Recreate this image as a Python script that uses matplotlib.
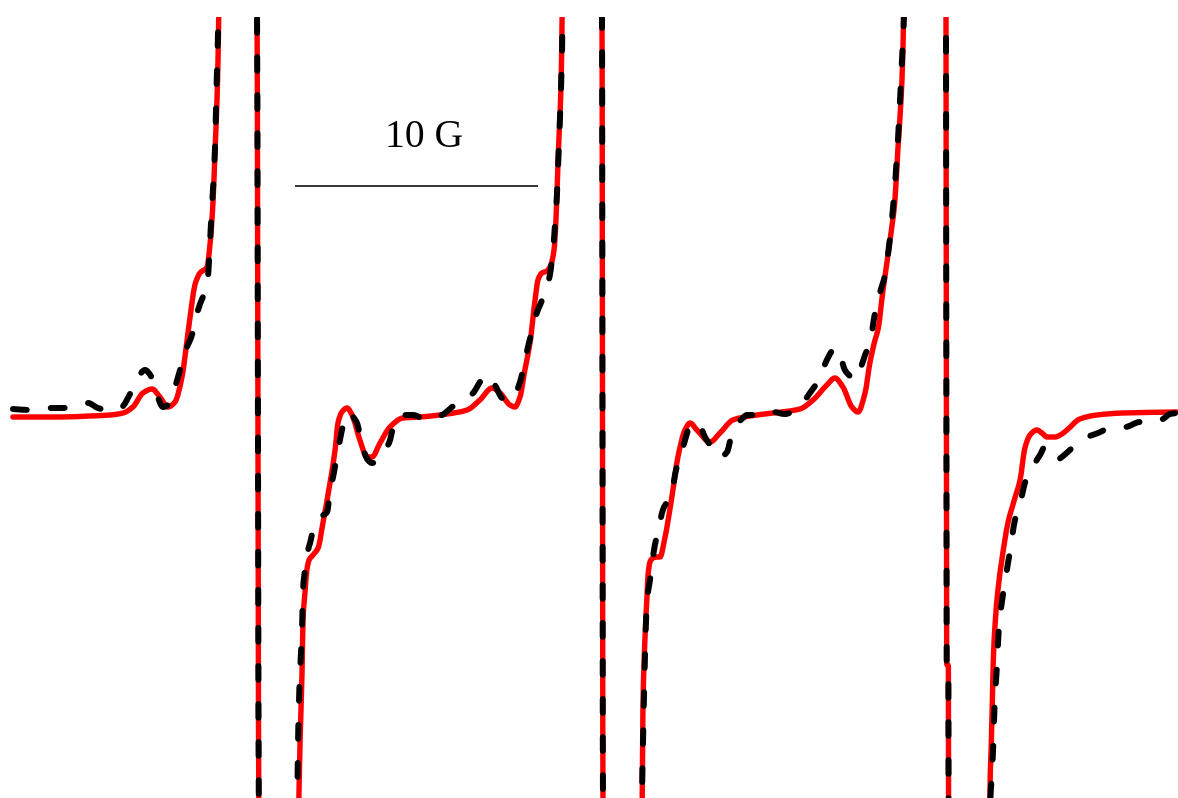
import matplotlib
matplotlib.use("Agg")
import matplotlib.pyplot as plt
from matplotlib.path import Path
from matplotlib.patches import PathPatch
import numpy as np

# ---------------------------------------------------------------------------
# EPR first-derivative spectra (field offset in G, signal in arbitrary units).
# The strong central hyperfine lines run far off scale; the plot is clipped to
# show the weak satellite structure between them.
# ---------------------------------------------------------------------------

# Solid red trace
field_solid = [
    0.53, 2.47, 3.70, 4.53, 5.06, 5.47, 5.88, 6.26, 6.58, 6.91, 7.20, 7.49,
    7.70, 7.90, 8.02, 8.23, 8.52, 8.64, 8.77, 8.85, 8.93, 8.98, 9.02,
    9.79, 10.57, 10.66, 11.44, 12.25,
    12.35, 12.43, 12.47, 12.55, 12.63, 12.72, 12.88, 13.09, 13.29, 13.58,
    13.79, 13.91, 14.07, 14.28, 14.49, 14.81, 15.10, 15.31, 15.64, 16.05,
    16.58, 17.28, 18.40, 19.22, 19.75, 20.25, 20.58, 20.99, 21.19, 21.40,
    21.60, 21.81, 22.02, 22.14, 22.30, 22.51, 22.67, 22.80, 22.88, 22.94,
    23.00, 23.07, 23.11, 23.15,
    23.95, 24.77, 24.82, 25.60, 26.41,
    26.46, 26.54, 26.63, 26.67, 26.75, 26.87, 27.04, 27.16, 27.37, 27.65,
    27.90, 28.19, 28.40, 28.68, 29.22, 29.63, 30.16, 30.86, 31.81, 32.92,
    33.46, 34.03, 34.36, 34.69, 35.06, 35.31, 35.60, 35.80, 36.01, 36.13,
    36.34, 36.63, 36.83, 36.95, 37.08, 37.16, 37.21,
    38.07, 38.93, 38.96, 39.03, 39.04, 39.92, 40.73,
    40.74, 40.80, 40.84, 40.88, 40.95, 41.07, 41.23, 41.48, 41.73, 41.98,
    42.18, 42.39, 42.67, 42.88, 43.09, 43.42, 43.70, 43.91, 44.44, 45.14,
    46.21, 48.44,
]
signal_solid = [
    -0.02, -0.02, -0.01, 0.00, 0.02, 0.08, 0.22, 0.26, 0.18, 0.08, 0.13, 0.38,
    0.75, 1.12, 1.30, 1.42, 1.48, 1.70, 2.15, 2.65, 3.15, 3.65, 4.30,
    12.0, 4.50, -4.40, -12.0, -4.45,
    -3.25, -2.58, -2.05, -1.78, -1.55, -1.45, -1.40, -1.33, -1.08, -0.68,
    -0.35, -0.08, 0.03, 0.07, 0.00, -0.25, -0.42, -0.42, -0.28, -0.12,
    -0.03, -0.02, 0.01, 0.05, 0.15, 0.27, 0.22, 0.10, 0.08, 0.18,
    0.45, 0.72, 1.15, 1.35, 1.42, 1.44, 1.50, 1.65, 1.95, 2.35,
    2.75, 3.15, 3.55, 4.30,
    12.0, 4.50, -4.40, -12.0, -4.45,
    -2.92, -2.25, -1.80, -1.60, -1.47, -1.43, -1.42, -1.42, -1.22, -0.82,
    -0.42, -0.15, -0.08, -0.15, -0.27, -0.18, -0.05, -0.01, 0.02, 0.06,
    0.15, 0.30, 0.37, 0.28, 0.08, 0.03, 0.22, 0.52, 0.75, 0.85,
    1.25, 1.75, 2.15, 2.65, 3.15, 3.65, 4.30,
    12.0, 4.50, -2.49, -2.51, -4.40, -12.0, -4.45,
    -3.83, -3.25, -2.85, -2.45, -2.10, -1.75, -1.45, -1.08, -0.86, -0.65,
    -0.33, -0.20, -0.15, -0.18, -0.22, -0.22, -0.19, -0.15, -0.04, 0.00,
    0.02, 0.03,
]

# Dashed black trace
field_dashed = [
    0.53, 1.23, 1.85, 2.47, 3.09, 3.62, 4.03, 4.61, 5.02, 5.35, 5.68, 5.97,
    6.21, 6.46, 6.71, 6.91, 7.16, 7.41, 7.65, 7.90, 8.15, 8.35, 8.52, 8.60,
    8.68, 8.77, 8.85, 8.89, 8.93, 8.98, 9.00,
    9.79, 10.57, 10.66, 11.44, 12.21,
    12.26, 12.30, 12.35, 12.43, 12.47, 12.55, 12.63, 12.76, 12.92, 13.09,
    13.25, 13.46, 13.58, 13.74, 13.87, 13.99, 14.12, 14.28, 14.49, 14.69,
    14.90, 15.14, 15.31, 15.51, 15.76, 16.01, 16.21, 16.46, 17.00, 17.57,
    18.19, 18.72, 19.14, 19.47, 19.88, 20.08, 20.37, 20.66, 20.91, 21.11,
    21.40, 21.65, 21.85, 22.06, 22.26, 22.47, 22.63, 22.76, 22.84, 22.92,
    22.98, 23.05, 23.11, 23.15, 23.16,
    23.95, 24.77, 24.82, 25.60, 26.40,
    26.42, 26.46, 26.50, 26.54, 26.58, 26.63, 26.75, 26.83, 26.95, 27.08,
    27.28, 27.49, 27.65, 27.82, 28.02, 28.23, 28.40, 28.60, 28.81, 29.01,
    29.22, 29.42, 29.63, 29.92, 30.08, 30.29, 30.53, 30.74, 31.07, 31.40,
    31.81, 32.30, 32.84, 33.13, 33.33, 33.54, 33.74, 33.99, 34.28, 34.44,
    34.61, 34.77, 34.98, 35.19, 35.39, 35.60, 35.80, 36.01, 36.21, 36.42,
    36.63, 36.79, 36.91, 37.00, 37.08, 37.16, 37.20, 37.21,
    38.07, 38.93, 38.96, 39.03, 39.04, 39.92, 40.72,
    40.76, 40.80, 40.88, 40.93, 41.03, 41.11, 41.32, 41.56, 41.77, 41.98,
    42.22, 42.43, 42.59, 42.80, 43.00, 43.21, 43.50, 43.70, 44.03, 44.36,
    44.65, 45.19, 45.80, 46.30, 46.91, 47.45, 47.86, 48.15, 48.44,
]
signal_dashed = [
    0.06, 0.05, 0.07, 0.07, 0.08, 0.12, 0.07, 0.04, 0.08, 0.21, 0.38, 0.45,
    0.39, 0.20, 0.08, 0.10, 0.25, 0.45, 0.65, 0.80, 1.05, 1.18, 1.27, 1.53,
    1.90, 2.28, 2.68, 3.07, 3.45, 3.90, 4.30,
    12.0, 4.50, -4.40, -12.0, -4.45,
    -3.35, -2.90, -2.55, -2.15, -1.75, -1.55, -1.40, -1.28, -1.12, -1.05,
    -1.01, -0.97, -0.77, -0.58, -0.40, -0.25, -0.10, 0.02, -0.01, -0.08,
    -0.30, -0.45, -0.48, -0.46, -0.37, -0.28, -0.10, 0.00, 0.00, -0.05,
    0.00, 0.10, 0.15, 0.22, 0.37, 0.40, 0.30, 0.17, 0.14, 0.17,
    0.33, 0.60, 0.80, 1.00, 1.12, 1.25, 1.40, 1.65, 1.90, 2.20,
    2.57, 3.00, 3.45, 3.95, 4.30,
    12.0, 4.50, -4.40, -12.0, -4.45,
    -3.83, -3.30, -2.85, -2.45, -2.10, -1.85, -1.65, -1.50, -1.30, -1.17,
    -0.95, -0.85, -0.77, -0.55, -0.40, -0.22, -0.10, -0.08, -0.11, -0.22,
    -0.30, -0.39, -0.42, -0.37, -0.23, -0.10, -0.04, 0.00, 0.00, -0.01,
    0.03, 0.01, 0.07, 0.15, 0.22, 0.29, 0.37, 0.53, 0.65, 0.67,
    0.57, 0.45, 0.39, 0.35, 0.45, 0.60, 0.72, 1.02, 1.22, 1.40,
    1.78, 2.18, 2.58, 2.95, 3.35, 3.75, 3.98, 4.30,
    12.0, 4.50, -2.49, -2.51, -4.40, -12.0, -4.45,
    -3.83, -3.67, -3.29, -2.91, -2.51, -2.12, -1.73, -1.37, -1.05, -0.88,
    -0.65, -0.55, -0.48, -0.40, -0.32, -0.37, -0.45, -0.42, -0.35, -0.28,
    -0.23, -0.18, -0.12, -0.12, -0.07, -0.08, -0.04, 0.01, 0.02,
]

# Scale bar
scale_length_G = 10
scale_label = "10 G"


def smooth_trace_path(x, y):
    """Monotone cubic (PCHIP-style) Bezier path running through every sample."""
    x = np.asarray(x, float)
    y = np.asarray(y, float)
    h = np.diff(x)
    d = np.diff(y) / h
    m = np.zeros_like(x)
    m[0], m[-1] = d[0], d[-1]
    for i in range(1, len(x) - 1):
        if d[i - 1] * d[i] > 0:
            w1 = 2 * h[i] + h[i - 1]
            w2 = h[i] + 2 * h[i - 1]
            m[i] = (w1 + w2) / (w1 / d[i - 1] + w2 / d[i])
    verts = [(x[0], y[0])]
    codes = [Path.MOVETO]
    for i in range(len(x) - 1):
        verts += [(x[i] + h[i] / 3, y[i] + m[i] * h[i] / 3),
                  (x[i + 1] - h[i] / 3, y[i + 1] - m[i + 1] * h[i] / 3),
                  (x[i + 1], y[i + 1])]
        codes += [Path.CURVE4] * 3
    return Path(verts, codes)


# ---------------------------------------------------------------------------
fig = plt.figure(figsize=(11.78, 7.98), dpi=100)
ax = fig.add_axes([0, 0, 1, 781 / 798])
ax.set_xlim(0, 48.48)
ax.set_ylim(-3.83, 3.98)
ax.axis("off")

ax.add_patch(PathPatch(smooth_trace_path(field_solid, signal_solid),
                       fill=False, edgecolor="#ff0000", lw=3.9,
                       joinstyle="round", capstyle="round", zorder=2))

lw_dash = 4.3
ax.add_patch(PathPatch(smooth_trace_path(field_dashed, signal_dashed),
                       fill=False, edgecolor="black", lw=lw_dash,
                       linestyle=(0, (10.0 / lw_dash, 17.4 / lw_dash)),
                       joinstyle="round", capstyle="round", zorder=3))

# 10 G scale bar with its label
bar_start = 12.14
bar_y = 2.29
ax.plot([bar_start, bar_start + scale_length_G], [bar_y, bar_y],
        color="black", lw=1.1, solid_capstyle="butt", zorder=4)
ax.text(bar_start + scale_length_G / 2 + 0.3, 2.68, scale_label,
        family="Liberation Serif", fontsize=28.5, ha="center", va="baseline",
        color="black", zorder=4)

fig.savefig("out.png", dpi=100, facecolor="white")
